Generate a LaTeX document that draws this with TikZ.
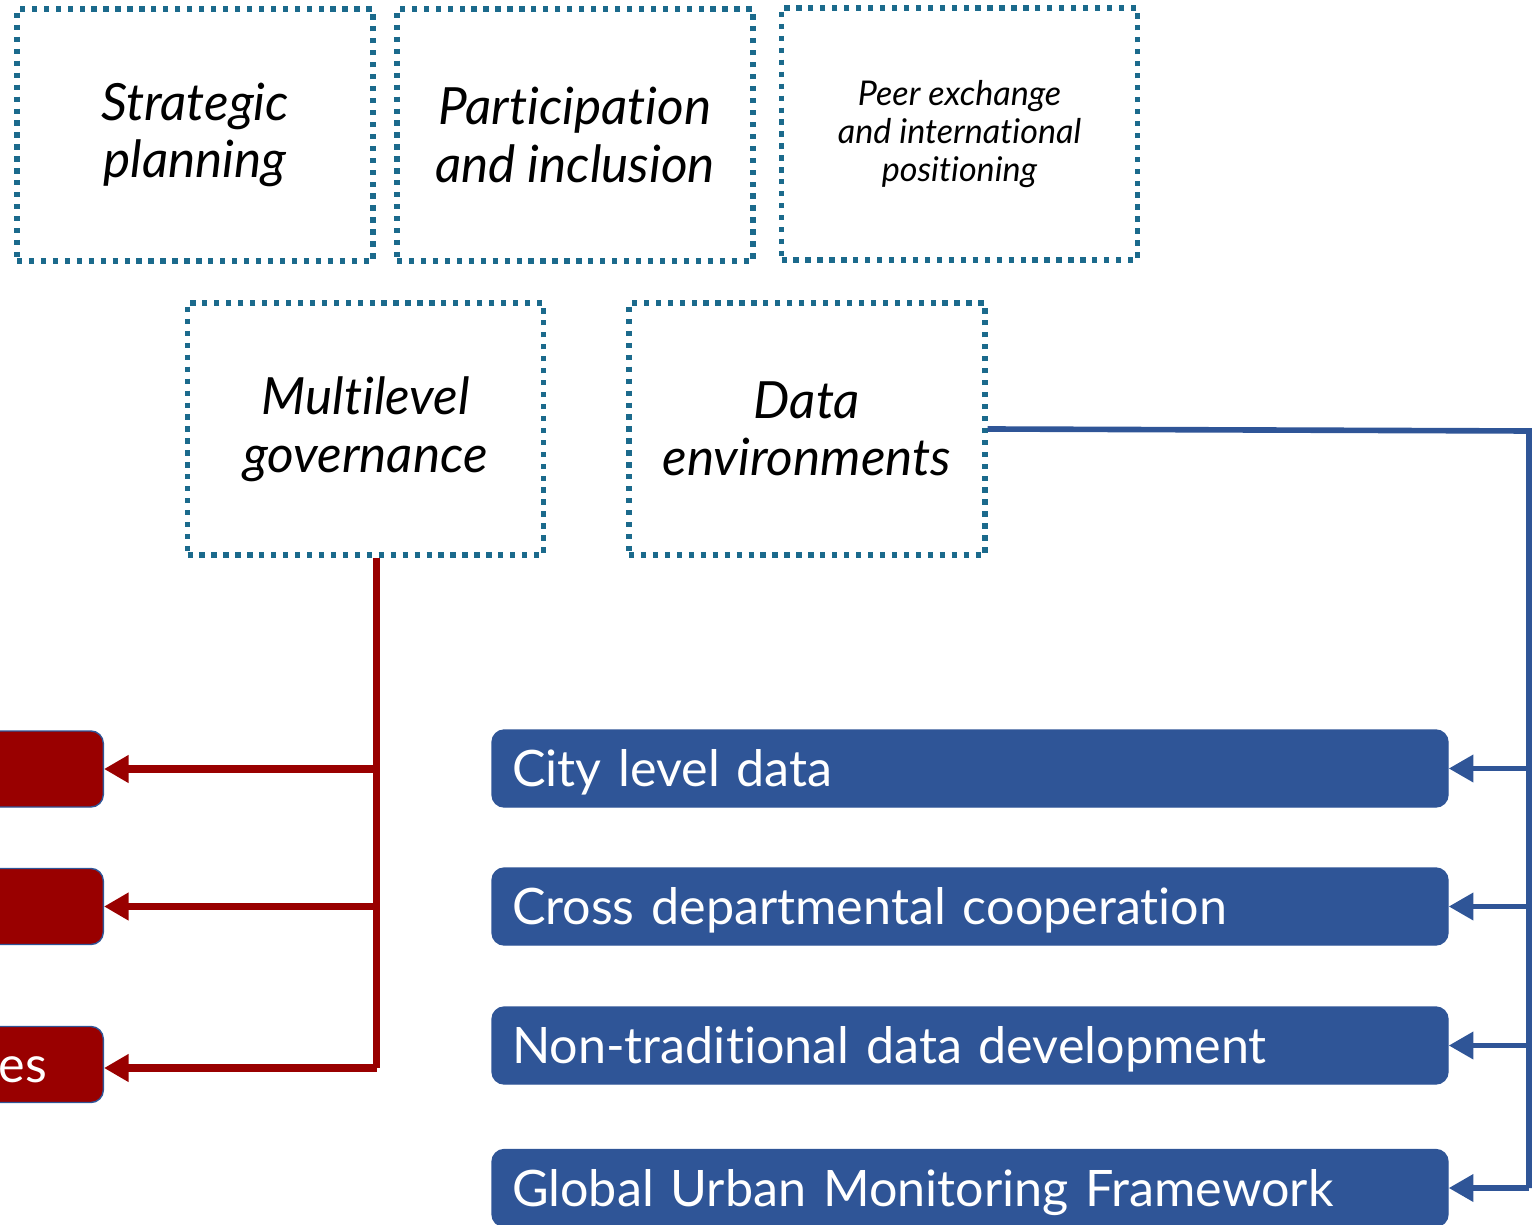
\documentclass[tikz,border=0pt]{standalone}
\usepackage{fontspec}
\setmainfont{Lato}[Ligatures=NoCommon]
\usepackage{tikz}
\usetikzlibrary{arrows.meta}

\definecolor{topicblue}{RGB}{27,106,140}
\definecolor{boxblue}{RGB}{47,85,151}
\definecolor{boxred}{RGB}{153,0,0}

\begin{document}
\begin{tikzpicture}[>={Triangle[length=7pt,width=7.5pt]}]
      \tikzstyle{topic}=[draw=topicblue,line width=1.5pt,dash pattern=on 1.5pt off 1.9pt,minimum width=3.56cm,minimum height=2.52cm,align=center,font=\itshape\fontsize{14.6}{16.4}\selectfont];
      \tikzstyle{databox}=[fill=boxblue,draw=boxblue,rounded corners=3.5pt,minimum height=0.77cm,text width=9.16cm,inner xsep=0.2cm,inner ysep=0pt,text height=10.3pt,text depth=0pt,align=left,text=white,font=\fontsize{14.3}{17}\selectfont];
      \tikzstyle{govbox}=[fill=boxred,draw=boxblue,line width=0.4pt,rounded corners=3.5pt,minimum height=0.76cm,text width=2.4cm,inner xsep=0.56cm,inner ysep=0pt,text height=10.3pt,text depth=0pt,align=right,text=white,font=\fontsize{14.3}{17}\selectfont];
      \tikzstyle{redlink}=[draw=boxred,line width=2pt];
      \tikzstyle{bluelink}=[draw=boxblue,line width=1.6pt];

      \useasboundingbox (0,0) rectangle (15.34,-12.25);
      \clip (0,0) rectangle (15.34,-12.25);

      \node[topic](SP) at (1.95,-1.35) {Strategic\\planning};
      \node[topic](PI) at (5.75,-1.35) {Participation\\and inclusion};
      \node[topic,font=\itshape\fontsize{9.7}{10.8}\selectfont](PE) at (9.595,-1.34) {Peer exchange\\and international\\positioning};
      \node[topic](MG) at (3.655,-4.29) {Multilevel\\governance};
      \node[topic](DE) at (8.07,-4.29) {Data\\environments};

      \node[databox](CD) at (9.70,-7.685) {City level data};
      \node[databox](CC) at (9.70,-9.065) {Cross departmental cooperation};
      \node[databox](ND) at (9.70,-10.455) {Non-traditional data development};
      \node[databox](GU) at (9.70,-11.88) {Global Urban Monitoring Framework};

      \node[govbox,anchor=east](R1) at (1.04,-7.69) {};
      \node[govbox,anchor=east](R2) at (1.04,-9.065) {};
      \node[govbox,anchor=east](R3) at (1.04,-10.645) {es};

      \coordinate (mgout) at ([xshift=0.11cm]MG.south);
      \coordinate (bus) at (15.29,-4.31);

      \draw[redlink] (mgout) |- ([yshift=-0.035cm]R3.east -| mgout);
      \draw[redlink,->] ([yshift=-0.035cm]R3.east -| mgout) -- ([yshift=-0.035cm]R3.east);
      \draw[redlink,->] (mgout |- R1.east) -- (R1.east);
      \draw[redlink,->] (mgout |- R2.east) -- (R2.east);

      \draw[bluelink] (DE.east) -- (bus) -- (bus |- GU.east);
      \draw[bluelink,->] (bus |- CD.east) -- (CD.east);
      \draw[bluelink,->] (bus |- CC.east) -- (CC.east);
      \draw[bluelink,->] (bus |- ND.east) -- (ND.east);
      \draw[bluelink,->] (bus |- GU.east) -- (GU.east);

    \end{tikzpicture}
\end{document}
